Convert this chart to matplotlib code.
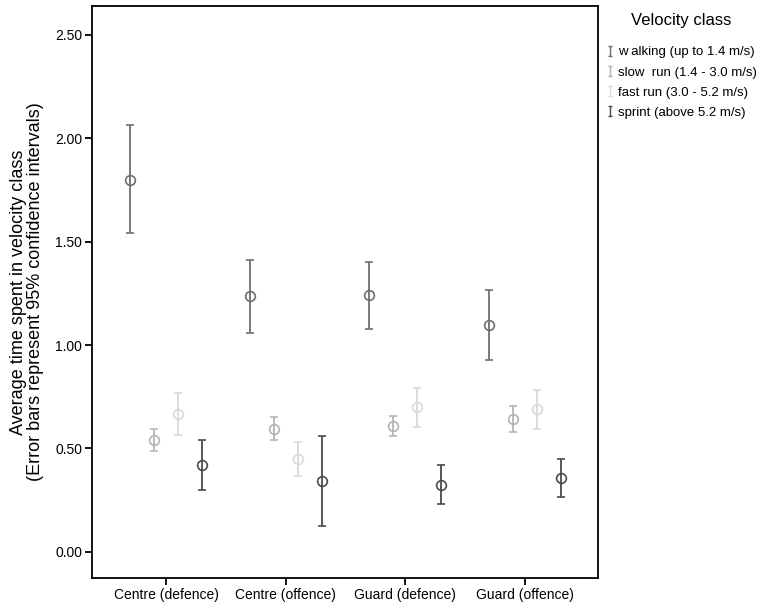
import numpy as np
import matplotlib
matplotlib.use("Agg")
import matplotlib.pyplot as plt
from matplotlib.lines import Line2D
from matplotlib.path import Path

plt.rcParams['font.family'] = ['Liberation Sans', 'DejaVu Sans']

# positions / categories
groups = ['Centre (defence)', 'Centre (offence)', 'Guard (defence)', 'Guard (offence)']
classes = ['w alking (up to 1.4 m/s)', 'slow  run (1.4 - 3.0 m/s)',
           'fast run (3.0 - 5.2 m/s)', 'sprint (above 5.2 m/s)']

# mean, lower and upper 95% CI for each class, per group
walking_mean = [1.80, 1.237, 1.242, 1.097]
walking_lo = [1.540, 1.060, 1.077, 0.929]
walking_hi = [2.064, 1.413, 1.403, 1.265]

slow_mean = [0.540, 0.595, 0.610, 0.642]
slow_lo = [0.489, 0.540, 0.560, 0.579]
slow_hi = [0.592, 0.650, 0.658, 0.705]

fast_mean = [0.665, 0.448, 0.699, 0.689]
fast_lo = [0.565, 0.365, 0.605, 0.595]
fast_hi = [0.766, 0.529, 0.793, 0.784]

sprint_mean = [0.419, 0.342, 0.324, 0.357]
sprint_lo = [0.297, 0.123, 0.229, 0.265]
sprint_hi = [0.542, 0.558, 0.419, 0.448]

series = [(walking_mean, walking_lo, walking_hi),
          (slow_mean, slow_lo, slow_hi),
          (fast_mean, fast_lo, fast_hi),
          (sprint_mean, sprint_lo, sprint_hi)]
colors = ['#6e6e6e', '#b4b4b4', '#d9d9d9', '#4a4a4a']
offsets = [-0.3, -0.1, 0.1, 0.3]

fig = plt.figure(figsize=(7.64, 6.08), dpi=100)
ax = fig.add_axes([92 / 764, 1 - 578 / 608, 506 / 764, 572 / 608])

x = np.arange(len(groups))
for (m, lo, hi), c, off in zip(series, colors, offsets):
    m = np.array(m)
    yerr = np.vstack([m - np.array(lo), np.array(hi) - m])
    ax.errorbar(x + off, m, yerr=yerr, fmt='o', color=c, mfc='none', mec=c,
                ms=7, mew=1.2, elinewidth=1.3, capsize=3, capthick=1.3)

ax.set_xlim(-0.618, 3.61)
ax.set_ylim(-0.127, 2.64)
ax.set_xticks(x)
ax.set_xticklabels(groups, fontsize=10)
ax.set_yticks(np.arange(0, 2.51, 0.5))
ax.set_yticklabels(['%.2f' % v for v in np.arange(0, 2.51, 0.5)], fontsize=10)
ax.tick_params(direction='out', length=5, width=1.3, color='black', pad=2)
for s in ax.spines.values():
    s.set_linewidth(1.3)
ax.set_ylabel('Average time spent in velocity class\n(Error bars represent 95% confidence intervals)',
              fontsize=13, labelpad=8, linespacing=1.0)

# legend with an "I" shaped error bar glyph
fig.text(681 / 764, 1 - 20 / 608, 'Velocity class', fontsize=12, ha='center', va='center')
ibar = Path([(-0.5, -1), (0.5, -1), (0, -1), (0, 1), (-0.5, 1), (0.5, 1)],
            [Path.MOVETO, Path.LINETO, Path.MOVETO, Path.LINETO, Path.MOVETO, Path.LINETO])
handles = [Line2D([], [], linestyle='none', marker=ibar, color=c, mec=c,
                  ms=7, mew=1.0) for c in colors]
leg = fig.legend(handles, classes, loc='upper left', bbox_to_anchor=(597 / 764, 1 - 37 / 608),
                 frameon=False, fontsize=9.5, handlelength=0.6, handletextpad=0.3,
                 labelspacing=0.6, borderpad=0.2)

fig.savefig('out.png', dpi=100)
